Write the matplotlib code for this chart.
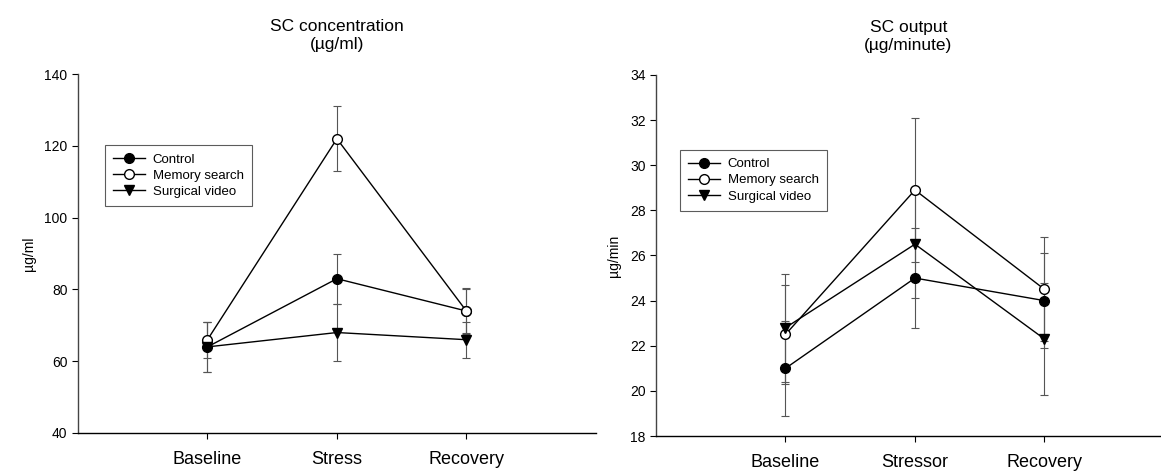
import matplotlib.pyplot as plt

plt.rcParams['font.family'] = ['Liberation Sans', 'DejaVu Sans']

groups = ["Control", "Memory search", "Surgical video"]

# SC concentration (ug/ml)
conc_labels = ["Baseline", "Stress", "Recovery"]
conc_control = [64, 83, 74]
conc_control_err = [7, 7, 6]
conc_memory = [66, 122, 74]
conc_memory_err = [5, 9, 6.5]
conc_surgical = [64, 68, 66]
conc_surgical_err = [7, 8, 5]

# SC output (ug/minute)
out_labels = ["Baseline", "Stressor", "Recovery"]
out_control = [21, 25, 24]
out_control_err = [2.1, 2.2, 2.1]
out_memory = [22.5, 28.9, 24.5]
out_memory_err = [2.2, 3.2, 2.3]
out_surgical = [22.8, 26.5, 22.3]
out_surgical_err = [2.4, 2.4, 2.5]

styles = [
    dict(marker='o', markerfacecolor='black', markersize=7),
    dict(marker='o', markerfacecolor='white', markersize=7),
    dict(marker='v', markerfacecolor='black', markersize=7),
]


def draw_panel(ax, labels, series, errs, title, ylabel, ylim, yticks, xmax, leg_anchor):
    x = [1, 2, 3]
    # error bars first so lines and markers sit on top
    for vals, err in zip(series, errs):
        ax.errorbar(x, vals, yerr=err, fmt='none', ecolor='#555555',
                    elinewidth=0.8, capsize=3, capthick=0.8, zorder=2)
    handles = []
    for vals, name, st in zip(series, groups, styles):
        h, = ax.plot(x, vals, color='black', lw=1.0, markeredgecolor='black',
                     markeredgewidth=1.0, label=name, zorder=3, **st)
        handles.append(h)

    ax.set_xlim(0, xmax)
    ax.set_ylim(*ylim)
    ax.set_yticks(yticks)
    ax.set_xticks(x)
    ax.set_xticklabels(labels, fontsize=13)
    ax.tick_params(axis='y', labelsize=10, length=4, width=0.8, direction='out')
    ax.tick_params(axis='x', length=4, width=0.8, direction='out', pad=9)
    for side in ['top', 'right']:
        ax.spines[side].set_visible(False)
    for side in ['left', 'bottom']:
        ax.spines[side].set_linewidth(1.0)
    ax.spines['left'].set_color('#444444')

    ax.set_ylabel(ylabel, fontsize=10, labelpad=6)
    ax.set_title(title, fontsize=12.5, pad=18, linespacing=1.25)

    leg = ax.legend(handles=handles, loc='upper left', bbox_to_anchor=leg_anchor,
                    fontsize=9.5, frameon=True, fancybox=False, edgecolor='#333333',
                    handlelength=2.4, handletextpad=0.6, labelspacing=0.3,
                    borderpad=0.6)
    leg.get_frame().set_linewidth(0.8)


fig = plt.figure(figsize=(11.61, 4.74), dpi=100)

ax1 = fig.add_axes([0.0672, 0.0865, 0.446, 0.757])
draw_panel(ax1, conc_labels,
           [conc_control, conc_memory, conc_surgical],
           [conc_control_err, conc_memory_err, conc_surgical_err],
           "SC concentration\n(\u00b5g/ml)", "\u00b5g/ml",
           (40, 140), [40, 60, 80, 100, 120, 140], 4.0, (0.04, 0.82))

ax2 = fig.add_axes([0.565, 0.080, 0.435, 0.762])
draw_panel(ax2, out_labels,
           [out_control, out_memory, out_surgical],
           [out_control_err, out_memory_err, out_surgical_err],
           "SC output\n(\u00b5g/minute)", "\u00b5g/min",
           (18, 34), [18, 20, 22, 24, 26, 28, 30, 32, 34], 3.9, (0.035, 0.81))

fig.savefig("out.png", dpi=100)
